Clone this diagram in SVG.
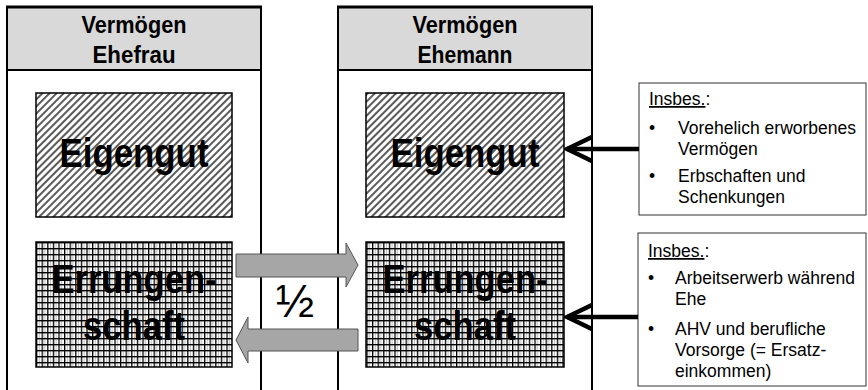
<svg xmlns="http://www.w3.org/2000/svg" width="868" height="390" viewBox="0 0 868 390">
  <defs>
    <!-- downward diagonal hatch for Eigengut -->
    <pattern id="hatch" width="5" height="5" patternUnits="userSpaceOnUse" patternTransform="rotate(45)">
      <rect width="5" height="5" fill="#ffffff"/>
      <rect x="0" y="0" width="2" height="5" fill="#5a5a5a"/>
    </pattern>
    <!-- fine grid for Errungenschaft -->
    <pattern id="grid" width="5.6" height="6" patternUnits="userSpaceOnUse" x="36" y="242">
      <rect width="5.6" height="6" fill="#ffffff"/>
      <rect x="2.8" y="1.4" width="1" height="4.6" fill="#bdbdbd"/>
      <rect x="0" y="0" width="1.3" height="6" fill="#000000"/>
      <rect x="0" y="0" width="5.6" height="1.4" fill="#000000"/>
    </pattern>
    <marker id="chev" viewBox="0 0 30 28" refX="27" refY="14" markerWidth="30" markerHeight="28" markerUnits="userSpaceOnUse" orient="auto">
      <polyline points="2,2 27,14 2,26" fill="none" stroke="#000" stroke-width="4.5" stroke-linejoin="miter"/>
    </marker>
  </defs>
  <style>
    .panel { fill: #ffffff; stroke: #000000; stroke-width: 2; }
    .head { fill: #d9d9d9; stroke: #000000; stroke-width: 2; }
    .htxt { font-family: "Liberation Sans", Arial, sans-serif; font-weight: bold; font-size: 24px; fill: #000000; text-anchor: middle; }
    .big { font-family: "Liberation Sans", Arial, sans-serif; font-weight: bold; font-size: 40px; fill: #000000; text-anchor: middle; }
    .eig { fill: url(#hatch); stroke: #000000; stroke-width: 1.5; }
    .err { fill: url(#grid); stroke: #000000; stroke-width: 1.5; }
    .note { fill: #ffffff; stroke: #333333; stroke-width: 1; }
    .ntxt { font-family: "Liberation Sans", Arial, sans-serif; font-size: 17.5px; fill: #000000; }
    .flow { fill: #a6a6a6; stroke: #555555; stroke-width: 1; }
    .conn { stroke: #000000; stroke-width: 4.5; fill: none; }
  </style>

  <!-- Vermögen Ehefrau -->
  <g id="panel-ehefrau">
    <rect class="panel" x="7" y="7" width="254" height="395"/>
    <rect class="head" x="7" y="7" width="254" height="63"/>
    <line x1="6" y1="7" x2="262" y2="7" stroke="#000" stroke-width="3"/>
    <text class="htxt" x="134" y="33" textLength="105" lengthAdjust="spacingAndGlyphs">Vermögen</text>
    <text class="htxt" x="134" y="63" textLength="83" lengthAdjust="spacingAndGlyphs">Ehefrau</text>
  </g>

  <!-- Vermögen Ehemann -->
  <g id="panel-ehemann">
    <rect class="panel" x="338" y="7" width="254" height="395"/>
    <rect class="head" x="338" y="7" width="254" height="63"/>
    <line x1="337" y1="7" x2="593" y2="7" stroke="#000" stroke-width="3"/>
    <text class="htxt" x="465" y="33" textLength="105" lengthAdjust="spacingAndGlyphs">Vermögen</text>
    <text class="htxt" x="465" y="63" textLength="95" lengthAdjust="spacingAndGlyphs">Ehemann</text>
  </g>

  <g id="eigengut-ehefrau">
    <rect class="eig" x="36" y="93" width="196" height="124"/>
    <text class="big" x="134" y="167" font-size="39" textLength="149" lengthAdjust="spacingAndGlyphs">Eigengut</text>
  </g>

  <g id="eigengut-ehemann">
    <rect class="eig" x="366" y="93" width="198" height="124"/>
    <text class="big" x="465" y="167" font-size="39" textLength="149" lengthAdjust="spacingAndGlyphs">Eigengut</text>
  </g>

  <g id="errungenschaft-ehefrau">
    <rect class="err" x="36" y="242" width="196" height="125"/>
    <text class="big" x="134" y="293" textLength="165" lengthAdjust="spacingAndGlyphs">Errungen-</text>
    <text class="big" x="134" y="340" textLength="102" lengthAdjust="spacingAndGlyphs">schaft</text>
  </g>

  <g id="errungenschaft-ehemann">
    <rect class="err" x="366" y="242" width="198" height="125"/>
    <text class="big" x="465" y="293" textLength="165" lengthAdjust="spacingAndGlyphs">Errungen-</text>
    <text class="big" x="465" y="340" textLength="102" lengthAdjust="spacingAndGlyphs">schaft</text>
  </g>

  <g id="note-eigengut">
    <rect class="note" x="639" y="83" width="227" height="132"/>
    <text class="ntxt" x="649" y="105"><tspan text-decoration="underline">Insbes.</tspan>:</text>
    <text class="ntxt" x="649" y="134">•</text>
    <text class="ntxt" x="678" y="134">Vorehelich erworbenes</text>
    <text class="ntxt" x="678" y="155">Vermögen</text>
    <text class="ntxt" x="649" y="182">•</text>
    <text class="ntxt" x="678" y="182">Erbschaften und</text>
    <text class="ntxt" x="678" y="203">Schenkungen</text>
  </g>

  <g id="note-errungenschaft">
    <rect class="note" x="638" y="233" width="228" height="153"/>
    <text class="ntxt" x="648" y="257"><tspan text-decoration="underline">Insbes.</tspan>:</text>
    <text class="ntxt" x="648" y="284">•</text>
    <text class="ntxt" x="675" y="284">Arbeitserwerb während</text>
    <text class="ntxt" x="675" y="305">Ehe</text>
    <text class="ntxt" x="648" y="335">•</text>
    <text class="ntxt" x="675" y="335">AHV und berufliche</text>
    <text class="ntxt" x="675" y="356">Vorsorge (= Ersatz-</text>
    <text class="ntxt" x="675" y="377">einkommen)</text>
  </g>

  <g id="connectors">
    <!-- half-share exchange between the two Errungenschaft boxes -->
    <polygon class="flow" points="236,254 346,254 346,243 358,265 346,287 346,277 236,277"/>
    <polygon class="flow" points="358,329 248,329 248,317 236,340 248,363 248,351 358,351"/>
    <text x="295" y="317" font-family="Liberation Sans, Arial, sans-serif" font-size="46" text-anchor="middle" fill="#000">½</text>
    <!-- notes pointing into the Ehemann boxes -->
    <line class="conn" x1="639" y1="149" x2="567" y2="149" marker-end="url(#chev)"/>
    <line class="conn" x1="638" y1="317" x2="567" y2="317" marker-end="url(#chev)"/>
  </g>
</svg>
